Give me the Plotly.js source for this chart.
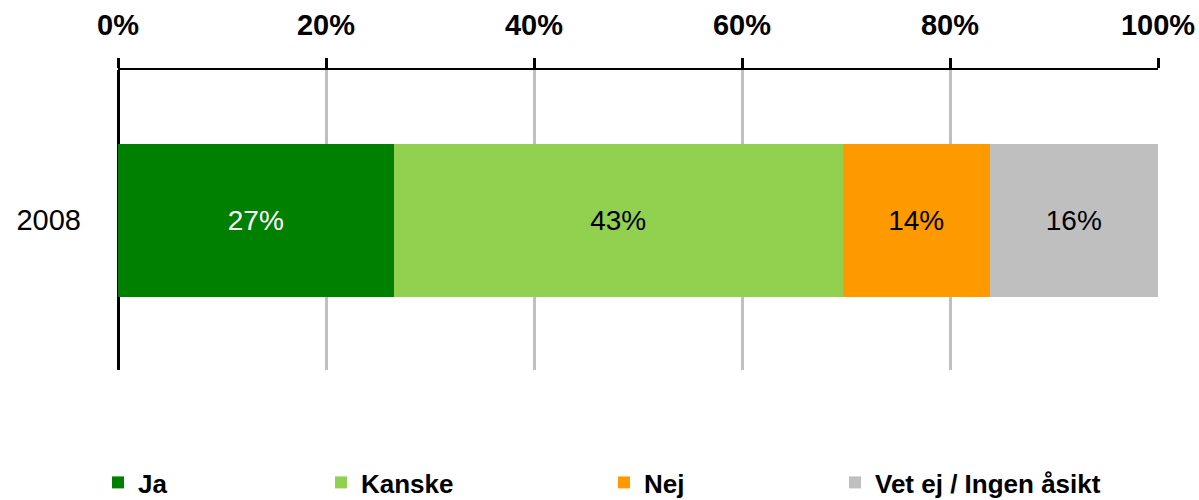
<!DOCTYPE html>
<html><head><meta charset="utf-8">
<script src="https://cdn.plot.ly/plotly-3.0.1.min.js"></script>
<style>body{margin:0;background:#fff}#c{width:1199px;height:500px}</style>
</head><body><div id="c"></div>
<script>
var categories = ['2008'];
var seriesNames = ['Ja', 'Kanske', 'Nej', 'Vet ej / Ingen åsikt'];
var jaValues = [26.5];
var kanskeValues = [43.2];
var nejValues = [14.1];
var vetEjValues = [16.2];
var jaLabels = ['27%'];
var kanskeLabels = ['43%'];
var nejLabels = ['14%'];
var vetEjLabels = ['16%'];
var tickVals = [0, 20, 40, 60, 80, 100];
var tickText = ['0%', '20%', '40%', '60%', '80%', '100%'];

var sans = 'Liberation Sans, Arial, sans-serif';
var colors = ['#008000', '#92d050', '#ff9900', '#bfbfbf'];
var textColors = ['#ffffff', '#000000', '#000000', '#000000'];
var values = [jaValues, kanskeValues, nejValues, vetEjValues];
var labels = [jaLabels, kanskeLabels, nejLabels, vetEjLabels];
var legendIds = ['legend', 'legend2', 'legend3', 'legend4'];
var legendX = [98, 321, 604, 835];

var traces = seriesNames.map(function(name, i){
  return {
    type: 'bar', orientation: 'h', name: name,
    y: categories, x: values[i], text: labels[i],
    textposition: 'inside', insidetextanchor: 'middle', constraintext: 'none',
    textfont: {family: sans, size: 28, color: textColors[i]},
    marker: {color: colors[i], line: {width: 0}},
    width: 0.51, legend: legendIds[i], hoverinfo: 'none'
  };
});

var layout = {
  width: 1199, height: 500, barmode: 'stack', showlegend: true,
  paper_bgcolor: '#fff', plot_bgcolor: '#fff',
  margin: {l: 118, r: 41, t: 70, b: 130, autoexpand: false},
  font: {family: sans, color: '#000'},
  xaxis: {
    side: 'top', range: [0, 100], tickvals: tickVals, ticktext: tickText,
    showgrid: true, gridcolor: '#c0c0c0', gridwidth: 3,
    showline: true, linecolor: '#000', linewidth: 2,
    ticks: 'outside', ticklen: 10, tickwidth: 3, tickcolor: '#000',
    zeroline: true, zerolinecolor: '#000', zerolinewidth: 3,
    tickfont: {size: 29, family: sans, weight: 'bold'},
    ticklabelstandoff: 11, fixedrange: true, automargin: false
  },
  yaxis: {
    type: 'category', range: [-0.5, 0.5], showgrid: false, zeroline: false, showline: false,
    ticks: '', tickfont: {size: 29, family: sans}, ticklabelstandoff: 36, fixedrange: true, automargin: false
  }
};
legendIds.forEach(function(id, i){
  layout[id] = {
    orientation: 'h', x: (legendX[i] - 118) / 1040, xanchor: 'left',
    y: -0.375, yanchor: 'middle', bgcolor: 'rgba(0,0,0,0)',
    font: {size: 26, weight: 'bold', family: sans}
  };
});
Plotly.newPlot('c', traces, layout, {displayModeBar: false, staticPlot: true});
</script></body></html>
